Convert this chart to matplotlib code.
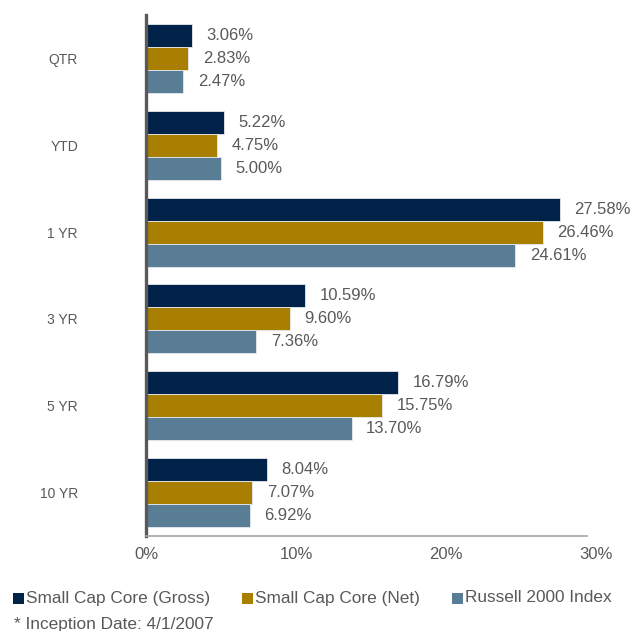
import matplotlib
matplotlib.use("Agg")
import matplotlib.pyplot as plt
from matplotlib.patches import Rectangle
import numpy as np

plt.rcParams['font.family'] = ['Liberation Sans', 'DejaVu Sans']

# data
categories = ["QTR", "YTD", "1 YR", "3 YR", "5 YR", "10 YR"]
series_names = ["Small Cap Core (Gross)", "Small Cap Core (Net)", "Russell 2000 Index"]
gross = [3.06, 5.22, 27.58, 10.59, 16.79, 8.04]
net = [2.83, 4.75, 26.46, 9.60, 15.75, 7.07]
russell = [2.47, 5.00, 24.61, 7.36, 13.70, 6.92]
x_ticks = [0, 10, 20, 30]
footnote = "* Inception Date: 4/1/2007"

colors = ["#012249", "#a87f00", "#5a7d96"]
text_gray = "#595959"

W, H = 632, 631
fig = plt.figure(figsize=(W / 100, H / 100), dpi=100)
ax = fig.add_axes([146 / W, 1 - 536 / H, (596 - 146) / W, (536 - 15) / H])

y = np.arange(len(categories))
h = 0.265
for i, (vals, c) in enumerate(zip([gross, net, russell], colors)):
    pos = y + (i - 1) * h
    bars = ax.barh(pos, vals, height=h, color=c, edgecolor="#e6e9ee", linewidth=0.6)
    for b, v in zip(bars, vals):
        ax.annotate(f"{v:.2f}%", (b.get_width(), b.get_y() + b.get_height() / 2),
                    xytext=(10.5, 0), textcoords="offset points",
                    ha="left", va="center", fontsize=12, color=text_gray)

ax.set_xlim(0, 30)
ax.set_ylim(len(categories) - 0.5, -0.5)
ax.set_yticks(y)
ax.set_yticklabels(categories, fontsize=10, color=text_gray)
ax.set_xticks(x_ticks)
ax.set_xticklabels([f"{t}%" for t in x_ticks], fontsize=12, color=text_gray)
ax.tick_params(axis="y", length=0, pad=49)
ax.tick_params(axis="x", length=0, pad=8)

for s in ["top", "right"]:
    ax.spines[s].set_visible(False)
ax.spines["left"].set_color("#595959")
ax.spines["left"].set_linewidth(2.4)
ax.spines["bottom"].set_color("#a6a6a6")
ax.spines["bottom"].set_linewidth(1.2)
ax.spines["bottom"].set_bounds(0, 29.4)

# legend, drawn by hand so the squares sit where the reference has them
legend_x = [13, 242, 452]
legend_y = 598
for lx, name, c in zip(legend_x, series_names, colors):
    fig.add_artist(Rectangle((lx / W, (H - legend_y - 5.5) / H), 11 / W, 11 / H,
                             transform=fig.transFigure, color=c, lw=0))
    fig.text((lx + 13) / W, 1 - legend_y / H, name, fontsize=12.4, color=text_gray,
             va="center", ha="left")

fig.text(14 / W, 1 - 625 / H, footnote, fontsize=12.4, color=text_gray, va="center")

fig.savefig("out.png", dpi=100)
